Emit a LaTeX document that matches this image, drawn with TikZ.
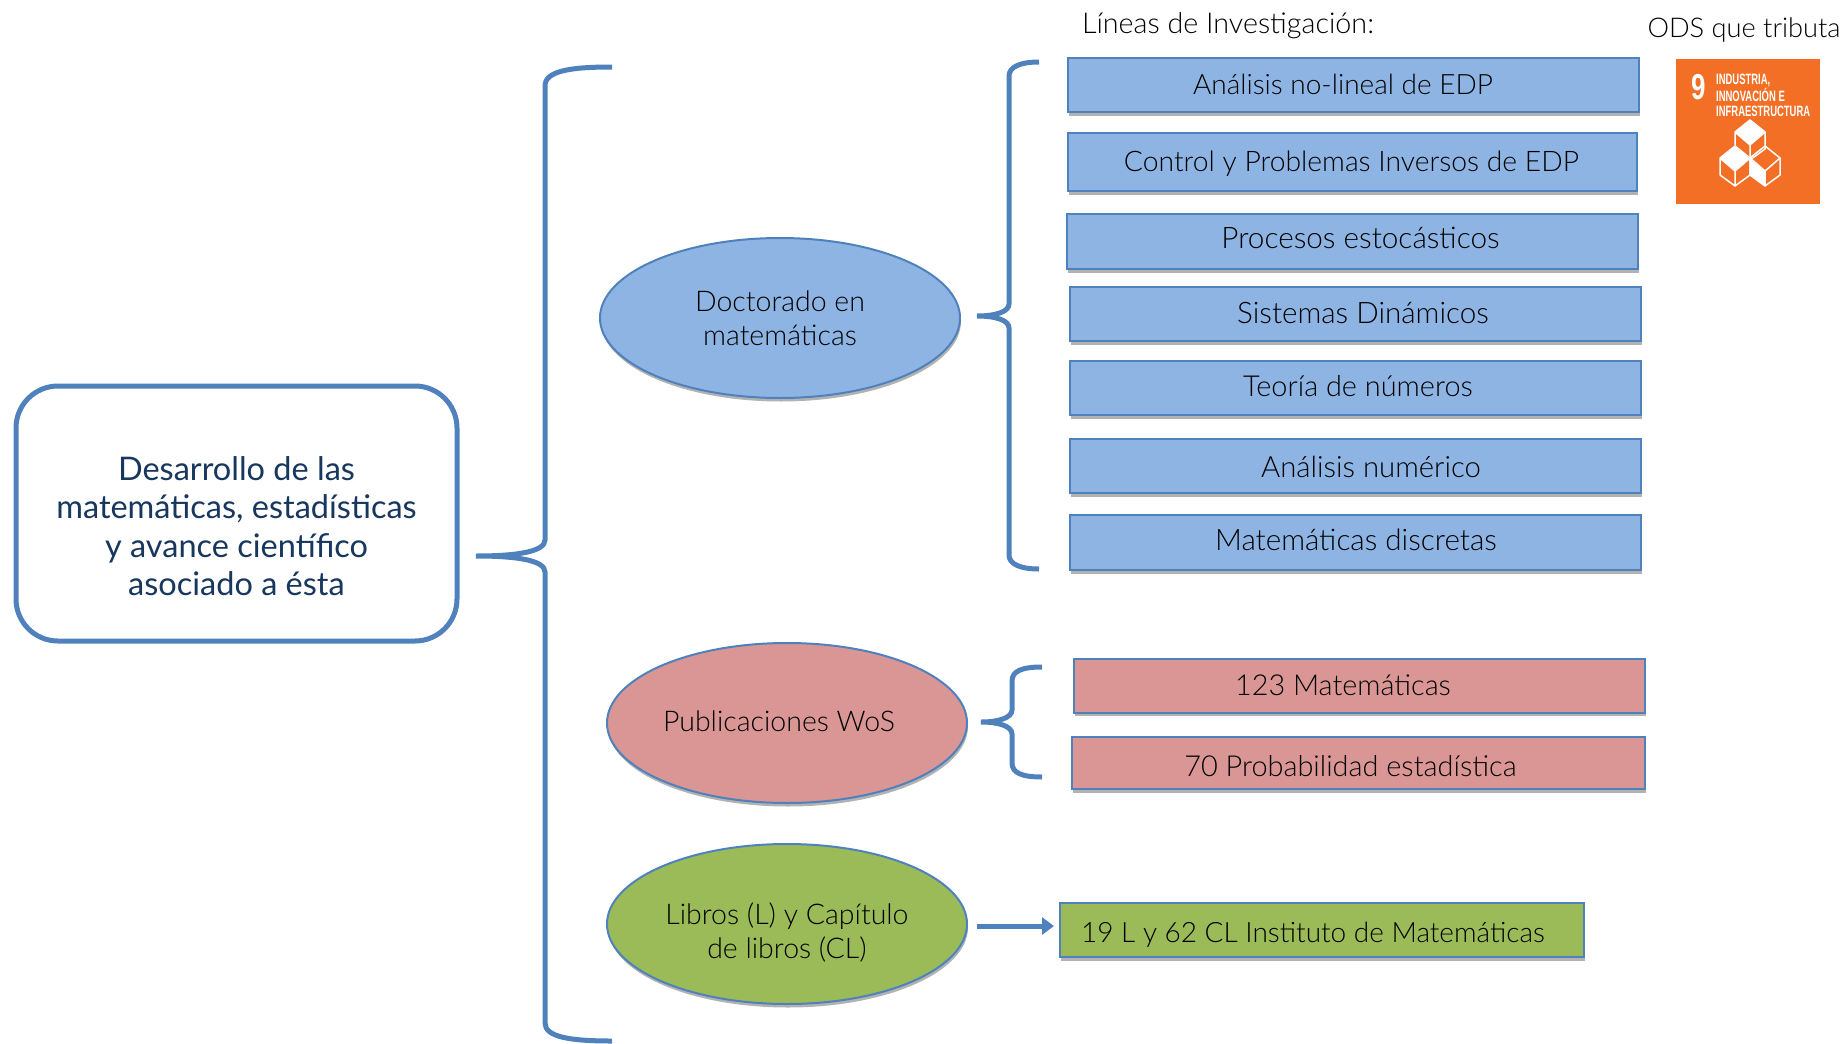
\documentclass[tikz,border=0pt]{standalone}
\usepackage{fontspec}
\setmainfont{Lato}[UprightFont=* Light]
\newfontfamily\odsfont{Liberation Sans}
\newfontfamily\latoreg{Lato}
\usepackage{color}
\usetikzlibrary{arrows.meta,shapes.geometric,shadows}
\definecolor{azul}{HTML}{8EB4E3}
\definecolor{rojo}{HTML}{D99694}
\definecolor{verde}{HTML}{9BBB59}
\definecolor{trazo}{HTML}{4F81BD}
\definecolor{tinta}{HTML}{17375E}
\definecolor{naranja}{HTML}{F36F26}
\newcommand{\corrido}[3]{\kern#1pt\raisebox{#2pt}[0pt][0pt]{#3}}
\newcommand{\letra}[1]{\fontsize{#1}{33}\selectfont}
\tikzset{
  sombra/.style = {drop shadow={shadow xshift=1pt, shadow yshift=-3.5pt,
    opacity=.3, fill=black}},
  caja/.style = {rectangle, draw=trazo, line width=2pt, sombra, inner sep=0pt,
    text=black, text height=23pt, text depth=3pt, font=\letra{28}},% rectangulo de una linea
  elipse/.style = {ellipse, draw=trazo, line width=2pt, sombra, inner sep=0pt,
    align=center, text=black, minimum width=360pt, minimum height=160pt,
    font=\fontsize{28.5}{34}\selectfont},
  titulo/.style = {inner sep=0pt, text=black},
  llave/.style = {draw=trazo, line width=5pt, line cap=butt},
  flecha/.style = {draw=trazo, line width=5pt,
    -{Triangle[length=12pt,width=17pt]}, shorten >=5pt, shorten <=9pt},
  odstexto/.style = {inner sep=0pt, anchor=west, white,
    font=\odsfont\bfseries\fontsize{15}{15}\selectfont},
  cubo/.pic = {
    \draw[white, line width=1.5pt, line join=round]
      (0,-25) -- (15,-13) -- (15,4) -- (0,15) -- (-15,4) -- (-15,-13) -- cycle
      (-15,-13) -- (0,0) -- (15,-13) (0,0) -- (0,15);
  }
}
\begin{document}
\begin{tikzpicture}[x=1pt,y=-1pt]
\useasboundingbox (0,0) rectangle (1845,1044);
\node [draw=trazo, line width=5pt, rounded corners=42pt, fill=white,
  minimum width=441pt, minimum height=255pt, inner sep=0pt, text=tinta,
  font=\latoreg\fontsize{32.5}{38.5}\selectfont] (origen) at (236.5,513.5)
  {\corrido{0}{-23}{\begin{tabular}{@{}c@{}}Desarrollo de las\\matemáticas, estadísticas\\y avance científico\\asociado a ésta\end{tabular}}};

\node [elipse, fill=azul] (doctorado) at (780,318) {Doctorado en\\matemáticas};
\node [elipse, fill=rojo] (publicaciones) at (787,723) {\corrido{-16}{-8}{Publicaciones WoS}};
\node [elipse, fill=verde] (libros) at (787,924)
  {\corrido{0}{-17}{\begin{tabular}{@{}c@{}}Libros (L) y Capítulo\\de libros (CL)\end{tabular}}};

\node [caja, fill=azul, minimum width=571pt, minimum height=54pt] (noLineal) at (1353.5,85)
  {\corrido{-21}{1}{Análisis no-lineal de EDP}};
\node [caja, fill=azul, minimum width=569pt, minimum height=58pt, font=\letra{28.3}] (control) at (1352.5,162)
  {\corrido{-2}{1}{Control y Problemas Inversos de EDP}};
\node [caja, fill=azul, minimum width=571pt, minimum height=55pt, font=\letra{29.7}] (procesos) at (1352.5,241.5)
  {\corrido{16}{3}{Procesos estocásticos}};
\node [caja, fill=azul, minimum width=571pt, minimum height=54pt, font=\letra{29.6}] (sistemas) at (1355,314)
  {\corrido{16}{1}{Sistemas Dinámicos}};
\node [caja, fill=azul, minimum width=571pt, minimum height=54pt, font=\letra{28.9}] (numeros) at (1355,388)
  {\corrido{6}{2}{Teoría de números}};
\node [caja, fill=azul, minimum width=571pt, minimum height=54pt, font=\letra{29.3}] (numerico) at (1355,466)
  {\corrido{32}{-1}{Análisis numérico}};
\node [caja, fill=azul, minimum width=571pt, minimum height=55pt, font=\letra{29.6}] (discretas) at (1355,542.5)
  {\corrido{2}{2}{Matemáticas discretas}};

\node [caja, fill=rojo, minimum width=571pt, minimum height=54pt, font=\letra{28.8}] (cientoVeinte) at (1359,685.5)
  {\corrido{-32}{0}{123 Matemáticas}};
\node [caja, fill=rojo, minimum width=573pt, minimum height=52pt, font=\letra{28.9}] (setenta) at (1358.5,763)
  {\corrido{-16}{-3}{70 Probabilidad estadística}};
\node [caja, fill=verde, minimum width=524pt, minimum height=54pt] (instituto) at (1322,930)
  {\corrido{-18}{-2}{19 L y 62 CL Instituto de Matemáticas}};

\node [titulo, font=\letra{28.7}] (lineas) at (1228,26) {Líneas de Investigación:};
\node [titulo, font=\letra{27.2}] (ods) at (1744,30) {ODS que tributa};

% icono ODS 9
\node [rectangle, fill=naranja, minimum width=144pt, minimum height=145pt, inner sep=0pt]
  (icono) at (1748,131.5) {};
\node [inner sep=0pt, white, font=\odsfont\bfseries\fontsize{36}{36}\selectfont] (nueve) at (1699,87)
  {\scalebox{.72}[1]{9}};
\node [odstexto] (ods1) at (1716,80) {\scalebox{.63}[1]{INDUSTRIA,}};
\node [odstexto] (ods2) at (1716,95) {\scalebox{.63}[1]{INNOVACIÓN E}};
\node [odstexto] (ods3) at (1716,111) {\scalebox{.63}[1]{INFRAESTRUCTURA}};
\fill[white] (1750,120) -- (1765,133) -- (1750,145) -- (1735,133) -- cycle;
\fill[white] (1735,146) -- (1750,159) -- (1735,171) -- (1720,159) -- cycle;
\fill[white] (1750,159) -- (1765,171) -- (1765,186) -- (1750,175) -- cycle;
\pic at (1750,145) {cubo};
\pic at (1735,171) {cubo};
\pic at (1765,171) {cubo};

% llaves
\coordinate (granArriba) at (612,67);
\coordinate (granPunta) at (476,556);
\coordinate (granAbajo) at (612,1041);
\draw[llave] (granArriba) .. controls (570,67) and (545,71) .. (545,86) -- (545,540)
  .. controls (545,551) and (520,556) .. (granPunta)
  .. controls (520,556) and (545,561) .. (545,572) -- (545,1023)
  .. controls (545,1037) and (570,1041) .. (granAbajo);

\coordinate (azulArriba) at (1039,62);
\coordinate (azulPunta) at (977,316);
\coordinate (azulAbajo) at (1039,569);
\draw[llave] (azulArriba) .. controls (1020,62) and (1009,67) .. (1009,76) -- (1009,304)
  .. controls (1009,312) and (995,316) .. (azulPunta)
  .. controls (995,316) and (1009,320) .. (1009,328) -- (1009,555)
  .. controls (1009,564) and (1020,569) .. (azulAbajo);

\coordinate (rojoArriba) at (1042,667);
\coordinate (rojoPunta) at (981,722);
\coordinate (rojoAbajo) at (1042,777);
\draw[llave] (rojoArriba) .. controls (1022,667) and (1012,671) .. (1012,681) -- (1012,710)
  .. controls (1012,718) and (998,722) .. (rojoPunta)
  .. controls (998,722) and (1012,726) .. (1012,734) -- (1012,763)
  .. controls (1012,773) and (1022,777) .. (rojoAbajo);

\draw[flecha] ([yshift=-2pt]libros.east) -- ([yshift=4pt]instituto.west);
\end{tikzpicture}
\end{document}
